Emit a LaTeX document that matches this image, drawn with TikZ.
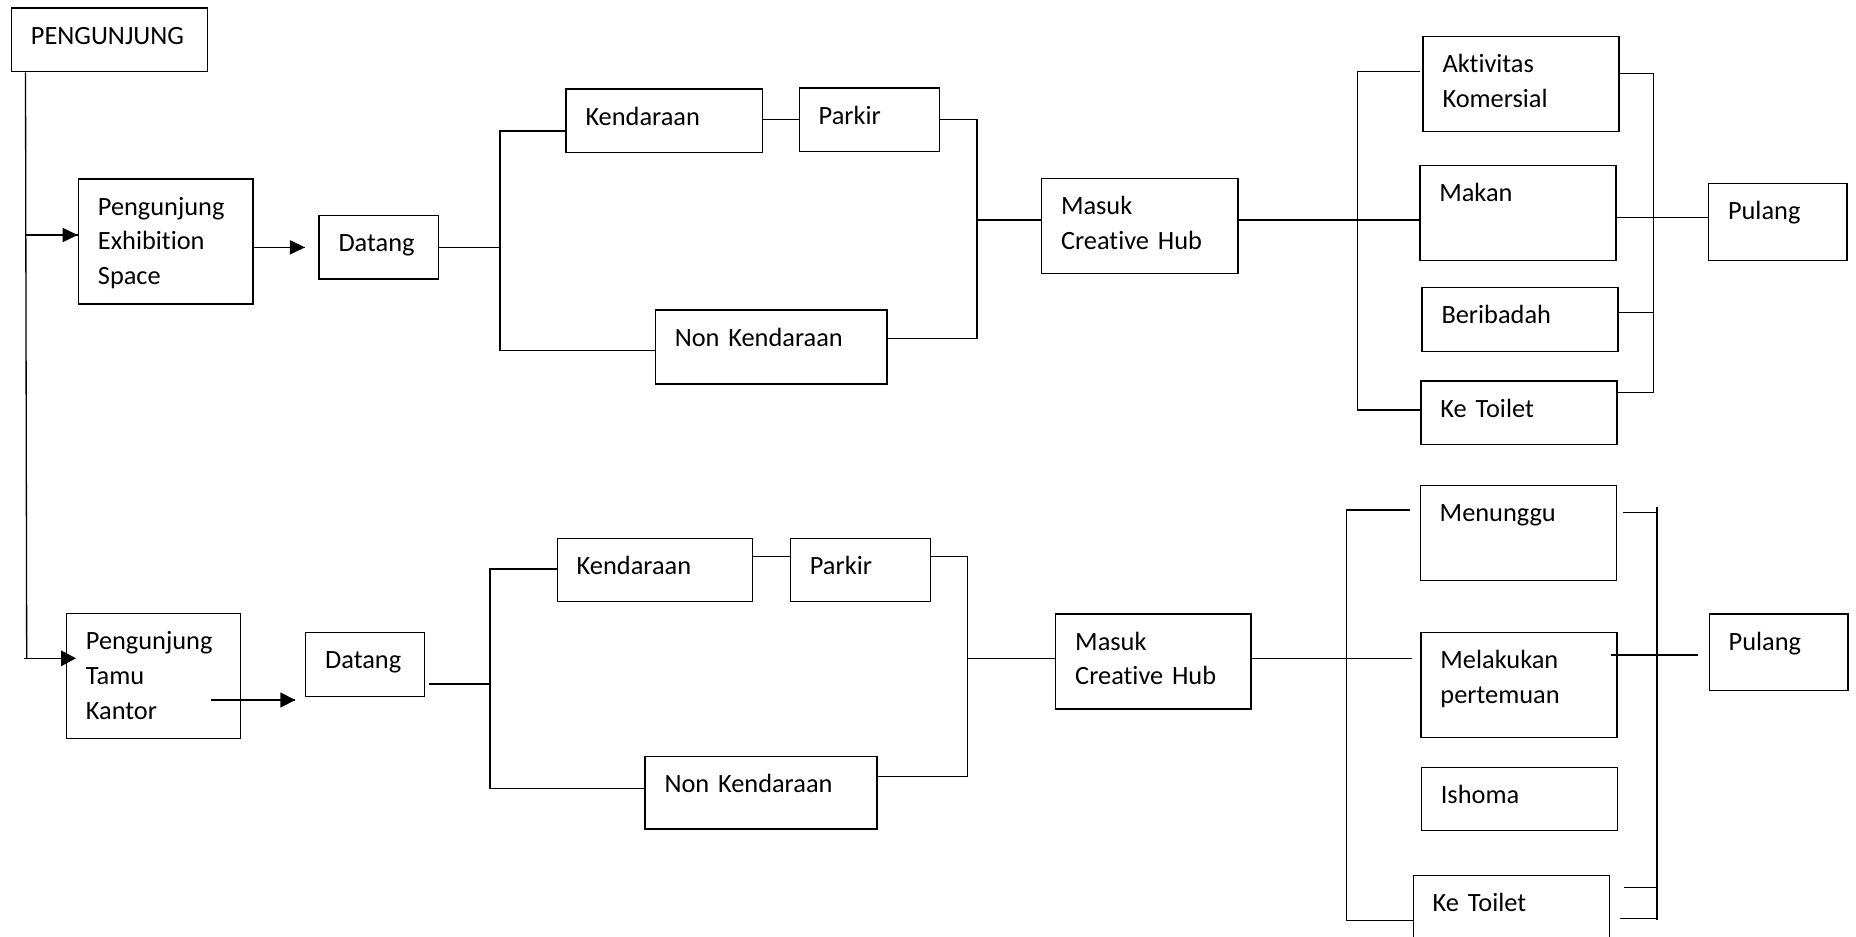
\documentclass[tikz,border=0pt]{standalone}
\usepackage{fontspec}
\setmainfont[Ligatures={NoCommon,NoDiscretionary}]{Carlito}

\begin{document}
\begin{tikzpicture}[scale=0.2, line width=0.75pt]
        \tikzset{box/.style args={#1 by #2}{draw=black, line width=0.8pt, anchor=north west, align=left,
            inner xsep=0.39cm, inner ysep=0pt, text width=#1*0.2cm-0.78cm,
            text height=0.72cm, text depth=#2*0.2cm-0.72cm, font=\fontsize{15pt}{19.9pt}\selectfont}}
        \useasboundingbox (0,0) rectangle (185.6,-93.6);
        \clip (0,0) rectangle (185.6,-93.6);
        % first row
        \node [box=19.6 by 6.37] (top) at (1.07,-0.73) {PENGUNJUNG};
        \node [box=17.46 by 12.5] (exh) at (7.77,-17.83) {Pengunjung\\Exhibition\\Space};
        \node [box=11.94 by 6.33] (dat1) at (31.83,-21.5) {Datang};
        \node [box=19.64 by 6.37] (ken1) at (56.53,-8.83) {Kendaraan};
        \node [box=14.03 by 6.34] (par1) at (79.85,-8.73) {Parkir};
        \node [box=23.16 by 7.4] (non1) at (65.46,-30.93) {Non Kendaraan};
        \node [box=19.64 by 9.5] (mas1) at (104.08,-17.77) {Masuk\\Creative Hub};
        \node [box=19.58 by 9.5] (akt) at (142.23,-3.57) {Aktivitas\\Komersial};
        \node [box=19.61 by 9.47] (mak) at (141.91,-16.5) {Makan};
        \node [box=19.61 by 6.37] (ber) at (142.13,-28.7) {Beribadah};
        \node [box=19.61 by 6.37] (toi1) at (142.02,-38.03) {Ke Toilet};
        \node [box=13.83 by 7.7] (pul1) at (170.78,-18.27) {Pulang};
        % second row
        \node [box=17.43 by 12.5] (tam) at (6.57,-61.27) {Pengunjung\\Tamu\\Kantor};
        \node [box=11.9 by 6.37] (dat2) at (30.5,-63.2) {Datang};
        \node [box=19.54 by 6.3] (ken2) at (55.65,-53.77) {Kendaraan};
        \node [box=14.03 by 6.3] (par2) at (78.97,-53.77) {Parkir};
        \node [box=23.21 by 7.26] (non2) at (64.43,-75.57) {Non Kendaraan};
        \node [box=19.54 by 9.5] (mas2) at (105.5,-61.33) {Masuk\\Creative Hub};
        \node [box=19.61 by 9.5] (men) at (141.95,-48.5) {Menunggu};
        \node [box=19.61 by 10.5] (mel) at (142.02,-63.17) {Melakukan\\pertemuan};
        \node [box=19.61 by 6.33] (ish) at (142.06,-76.67) {Ishoma};
        \node [box=19.61 by 6.4] (toi2) at (141.25,-87.45) {Ke Toilet};
        \node [box=13.87 by 7.67] (pul2) at (170.85,-61.33) {Pulang};

        \coordinate (tr1) at (2.55,-23.5);
        \coordinate (tr2) at (2.67,-65.83);
        \coordinate (ta) at (21.07,-70.0);
        \coordinate (s1a) at (50.0,-13.1);
        \coordinate (s1b) at (50.0,-35.07);
        \coordinate (j1a) at (97.7,-11.93);
        \coordinate (j1b) at (97.7,-33.87);
        \coordinate (j1m) at (97.7,-22.0);
        \coordinate (k1a) at (135.74,-7.17);
        \coordinate (k1b) at (135.74,-41.0);
        \coordinate (r1a) at (165.35,-7.38);
        \coordinate (r1b) at (165.35,-39.27);
        \coordinate (r1c) at (165.35,-31.23);
        \coordinate (r1m) at (165.35,-21.77);
        \coordinate (s2a) at (49.0,-56.9);
        \coordinate (s2b) at (49.0,-78.83);
        \coordinate (s2m) at (49.0,-68.4);
        \coordinate (j2a) at (96.72,-55.68);
        \coordinate (j2b) at (96.72,-77.67);
        \coordinate (j2m) at (96.72,-65.87);
        \coordinate (k2a) at (134.68,-51.0);
        \coordinate (k2b) at (134.68,-92.05);
        \coordinate (r2a) at (165.7,-50.67);
        \coordinate (r2b) at (165.7,-92.0);
        \coordinate (r2c) at (165.7,-51.23);
        \coordinate (r2d) at (165.7,-88.73);
        \coordinate (r2e) at (165.7,-91.87);
        \coordinate (r2m) at (165.7,-65.5);

        \draw [black] (top.south -| tr1) -- (tr2);
        \draw [black] (tr1) -- (tr1 -| exh.west);
        \fill [black] (tr1 -| exh.west) -- ++(-1.5,0.72) -- ++(0,-1.44);
        \draw [black] (tr2) ++(-0.25,0) -- (tr2 -| tam.west);
        \fill [black] (tr2 -| tam.west) ++(1.03,0) -- ++(-1.5,0.8) -- ++(0,-1.6);
        \draw [black, shorten >=0.27cm] (exh.east |- dat1.west) -- (dat1.west);
        \fill [black] (dat1.west) ++(-1.33,0) -- ++(-1.5,0.72) -- ++(0,-1.44);
        \draw [black, shorten >=0.19cm] (ta) -- (ta -| dat2.west);
        \fill [black] (ta -| dat2.west) ++(-0.97,0) -- ++(-1.5,0.77) -- ++(0,-1.54);

        \draw [black] (dat1.east) -- (dat1.east -| s1a);
        \draw [black] (s1a -| ken1.west) -- (s1a) -- (s1b) -- (s1b -| non1.west);
        \draw [black] (ken1.east |- par1.west) -- (par1.west);
        \draw [black] (par1.east |- j1a) -- (j1a) -- (j1b) -- (j1b -| non1.east);
        \draw [black] (j1m) -- (j1m -| mas1.west);
        \draw [black] (j1m -| mas1.east) -- (j1m -| mak.west);
        \draw [black, shorten <=0.05cm] (k1a -| akt.west) -- (k1a) -- (k1b) -- (k1b -| toi1.west);
        \draw [black] (r1a -| akt.east) -- (r1a) -- (r1b) -- (r1b -| toi1.east);
        \draw [black] (r1c -| ber.east) -- (r1c);
        \draw [black] (r1m -| mak.east) -- (r1m -| pul1.west);

        \draw [black, shorten <=0.08cm] (s2m -| dat2.east) -- (s2m);
        \draw [black] (s2a -| ken2.west) -- (s2a) -- (s2b) -- (s2b -| non2.west);
        \draw [black] (j2a -| ken2.east) -- (j2a -| par2.west);
        \draw [black] (j2a -| par2.east) -- (j2a) -- (j2b) -- (j2b -| non2.east);
        \draw [black] (j2m) -- (j2m -| mas2.west);
        \draw [black, shorten >=0.17cm] (j2m -| mas2.east) -- (j2m -| mel.west);
        \draw [black, shorten <=0.19cm] (k2a -| men.west) -- (k2a) -- (k2b) -- (k2b -| toi2.west);
        \draw [black] (r2a) -- (r2b);
        \draw [black, shorten <=0.11cm] (r2c -| men.east) -- (r2c);
        \draw [black, shorten <=0.28cm] (r2d -| toi2.east) -- (r2d);
        \draw [black, shorten <=0.2cm] (r2e -| toi2.east) -- (r2e);
        \draw [black, shorten >=0.21cm] (r2m -| mel.east) ++(-0.7,0) -- (r2m -| pul2.west);
    \end{tikzpicture}
\end{document}
